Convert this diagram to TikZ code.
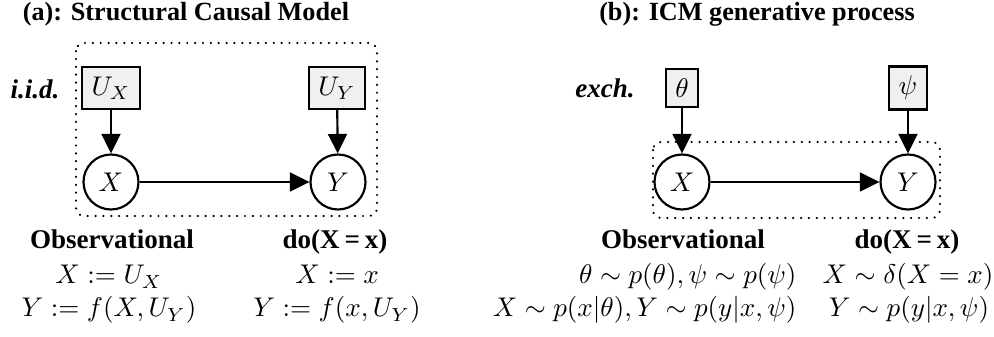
\documentclass[tikz,border=0pt]{standalone}
\usepackage{fontspec}
\setmainfont{Liberation Serif}
\usetikzlibrary{arrows.meta}
\newcommand{\doxx}{do(X\kern1.8pt=\kern1.8pt x)}
\begin{document}
\begin{tikzpicture}[x=0.37pt,y=-0.37pt,
  var/.style={circle,draw,line width=0.8pt,minimum size=20.35pt,inner sep=0pt},
  param/.style={rectangle,draw,line width=0.8pt,fill=gray!12,inner sep=3.5pt},
  plate/.style={draw,line width=0.9pt,dash pattern=on 0.01pt off 2.9pt,line cap=round,rounded corners=3pt},
  edge/.style={line width=0.8pt,-{Triangle[length=7.2pt,width=7pt]}},
  ttl/.style={font=\fontsize{9.7pt}{11pt}\bfseries,anchor=base,inner sep=0pt},
  hdr/.style={font=\bfseries,anchor=base,inner sep=0pt},
  lbl/.style={font=\bfseries\itshape,anchor=base,inner sep=0pt},
  eq/.style={anchor=base,inner sep=0pt}]
\path[use as bounding box] (0,0) rectangle (994,337);
% (a)
\node[ttl] (ta) at (186,21) {(a): Structural Causal Model};
\draw[plate] (76,43) rectangle (377,216);
\node[param] (ux) at (111,88) {$U_X$};
\node[param] (uy) at (337,88) {$U_Y$};
\node[var] (xa) at (111,182) {$X$};
\node[var] (ya) at (338,182) {$Y$};
\node[lbl] (iid) at (35,99) {i.i.d.};
\draw[edge] (ux) -- (xa);
\draw[edge] (uy) -- (ya);
\draw[edge] (xa) -- (ya);
\node[hdr] (oa) at (112,249) {Observational};
\node[hdr] (da) at (335,249) {\doxx};
\node[eq] (a1) at (109,284) {$X := U_X$};
\node[eq] (a2) at (109,317) {$Y := f(X, U_Y)$};
\node[eq] (a3) at (337,284) {$X := x$};
\node[eq] (a4) at (337,317) {$Y := f(x, U_Y)$};
% (b)
\node[ttl] (tb) at (757,21) {(b): ICM generative process};
\draw[plate] (653,142) rectangle (940,218);
\node[param] (th) at (682,88) {$\theta$};
\node[param] (ps) at (908,88) {$\psi$};
\node[var] (xb) at (682,182) {$X$};
\node[var] (yb) at (908,182) {$Y$};
\node[lbl] (ex) at (605,98) {exch.};
\draw[edge] (th) -- (xb);
\draw[edge] (ps) -- (yb);
\draw[edge] (xb) -- (yb);
\node[hdr] (ob) at (683,249) {Observational};
\node[hdr] (db) at (907,249) {\doxx};
\node[eq,anchor=base east] (b1) at (797,284) {$\theta\sim p(\theta), \psi\sim p(\psi)$};
\node[eq,anchor=base east] (b2) at (797,317) {$X\sim p(x|\theta), Y\sim p(y|x,\psi)$};
\node[eq] (b3) at (908,284) {$X\sim \delta(X=x)$};
\node[eq] (b4) at (909,317) {$Y\sim p(y|x,\psi)$};
\end{tikzpicture}
\end{document}
